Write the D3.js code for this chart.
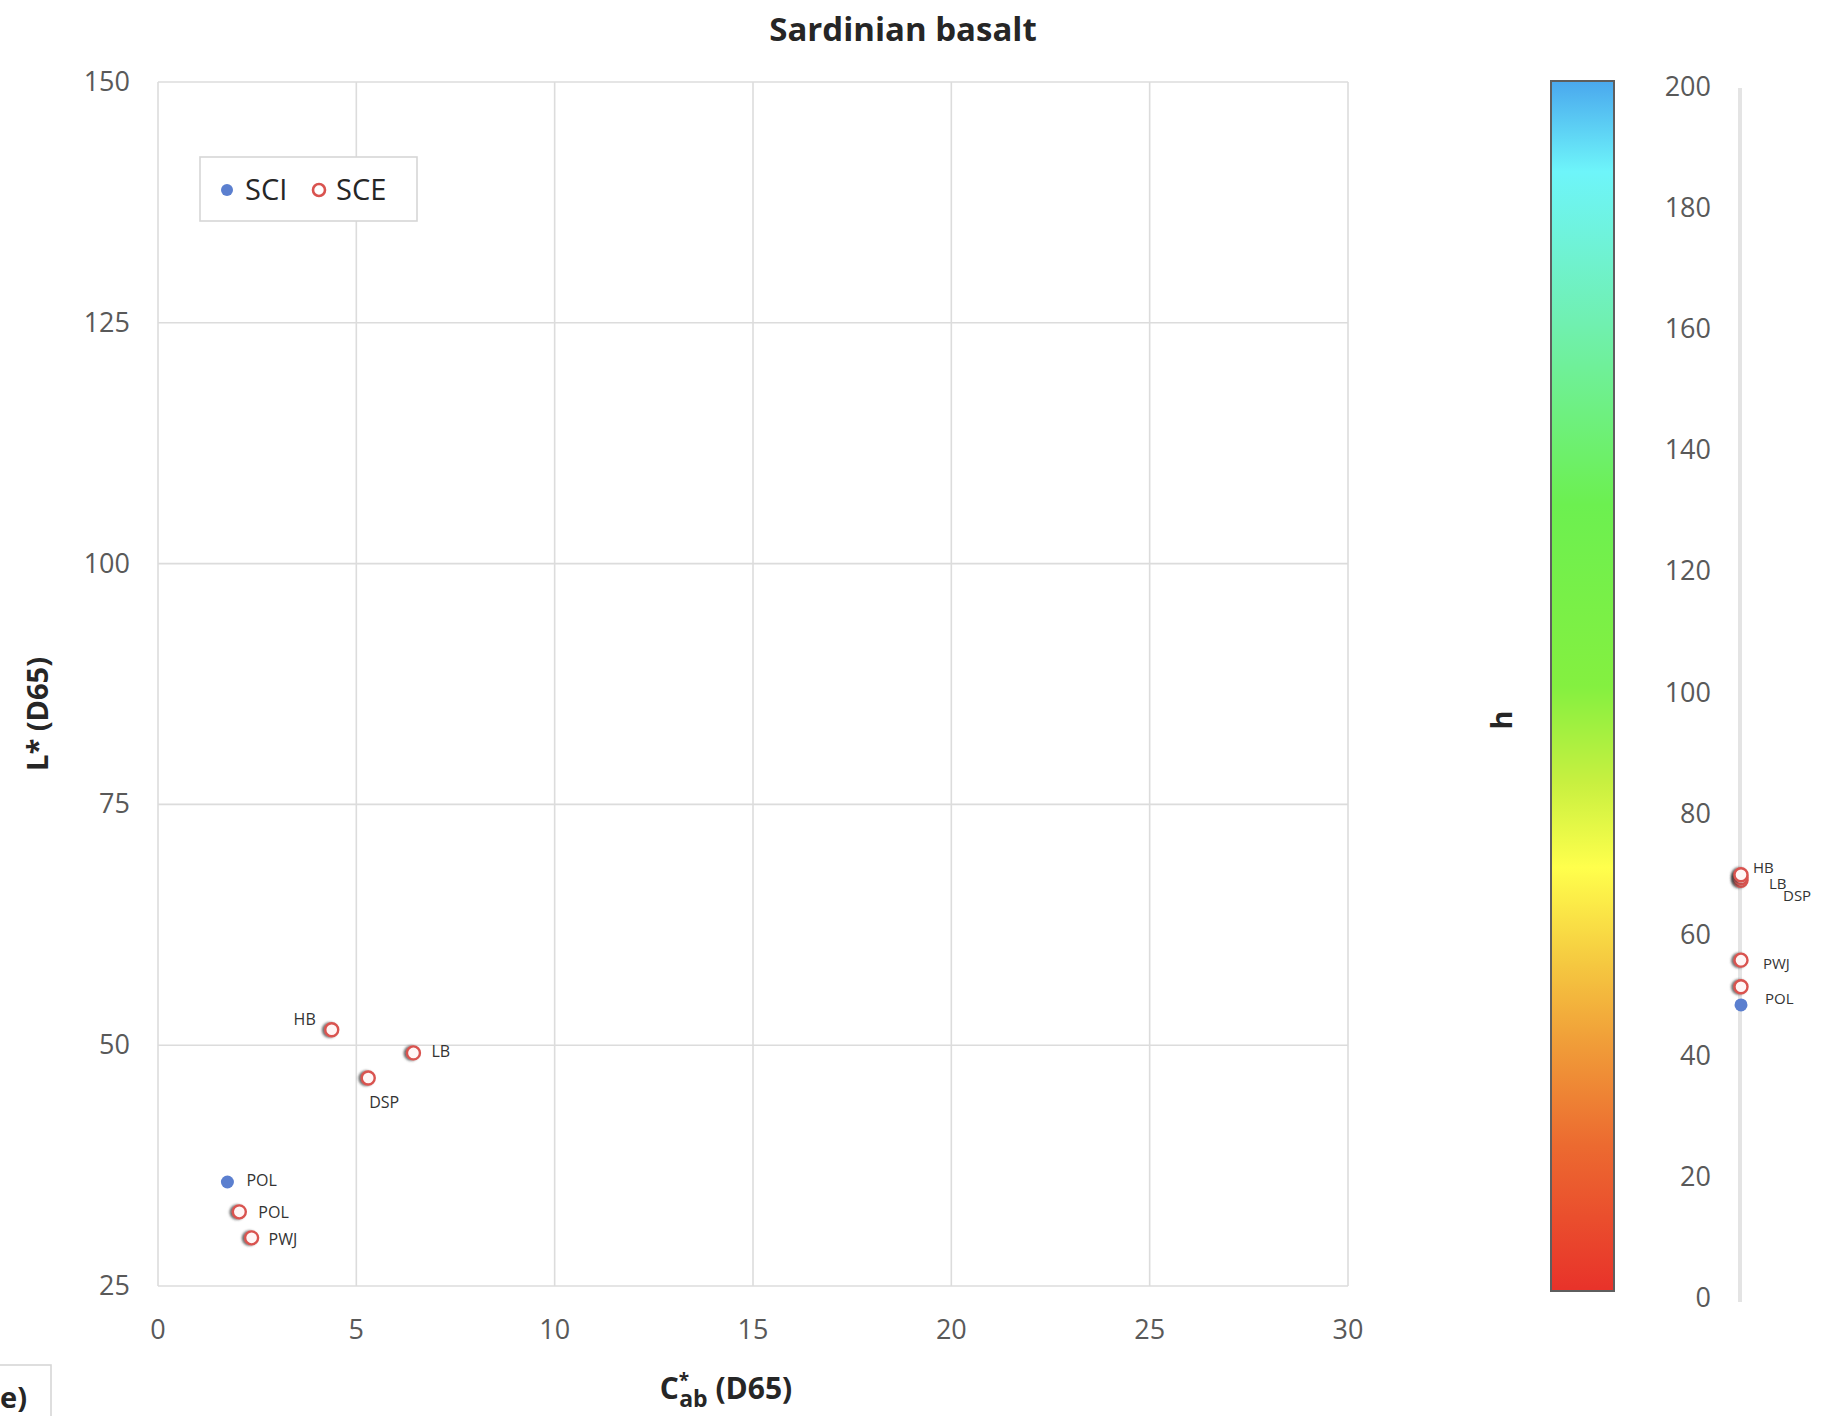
<!DOCTYPE html>
<html>
<head>
<meta charset="utf-8">
<script src="https://cdn.jsdelivr.net/npm/d3@7"></script>
<style>
  html, body { margin: 0; padding: 0; background: #fff; }
  svg { display: block; font-family: "Open Sans", Lato, "DejaVu Sans", sans-serif; }
</style>
</head>
<body>
<svg id="chart" width="1822" height="1416"></svg>
<script>
// Sample codes and their CIELAB readings (D65)
const samples = ["HB", "LB", "DSP", "POL", "PWJ"];

// SCE (specular component excluded)
const sceSamples = ["HB", "LB", "DSP", "POL", "PWJ"];
const sceChroma  = [4.38, 6.44, 5.30, 2.05, 2.36];
const sceLight   = [51.6, 49.2, 46.6, 32.7, 30.0];
const sceHue     = [69.9, 69.4, 69.0, 51.4, 55.8];

// SCI (specular component included)
const sciSamples = ["POL"];
const sciChroma  = [1.75];
const sciLight   = [35.8];
const sciHue     = [48.4];

// Axis ticks
const xTicks = [0, 5, 10, 15, 20, 25, 30];
const yTicks = [25, 50, 75, 100, 125, 150];
const hTicks = [0, 20, 40, 60, 80, 100, 120, 140, 160, 180, 200];

// Hue colour bar stops (h value, colour)
const hueStopValues = [0, 24, 40, 54, 70, 84, 100, 130, 160, 185, 200];
const hueStopColors = ["#e8322a", "#ec6a30", "#f09a38", "#f5c840", "#ffff4c",
                       "#c8f040", "#84f040", "#6cf050", "#70f0b0", "#6ef5fa", "#4aa8ee"];

const SCI_COLOR = "#5b7fcf";
const SCE_COLOR = "#d9534f";
const GRID = "#dcdcdc";
const TICK_COLOR = "#595959";
const TEXT_DARK = "#262626";

const svg = d3.select("#chart");

// Main plot geometry
const plot = { left: 158, right: 1348, top: 82, bottom: 1286 };
const x = d3.scaleLinear().domain([0, 30]).range([plot.left, plot.right]);
const y = d3.scaleLinear().domain([25, 150]).range([plot.bottom, plot.top]);

// Hue scale (colour bar + side strip)
const h = d3.scaleLinear().domain([0, 200]).range([1298, 87]);

// Shadow for hollow markers
const defs = svg.append("defs");
const shadow = defs.append("filter").attr("id", "ringShadow")
  .attr("x", "-50%").attr("y", "-50%").attr("width", "200%").attr("height", "200%");
shadow.append("feDropShadow").attr("dx", -2.2).attr("dy", 0.3)
  .attr("stdDeviation", 0.9).attr("flood-color", "#3a3a3a").attr("flood-opacity", 0.75);

// Gridlines
const g = svg.append("g");
g.selectAll("line.vgrid").data(xTicks).join("line")
  .attr("x1", d => x(d)).attr("x2", d => x(d))
  .attr("y1", plot.top).attr("y2", plot.bottom)
  .attr("stroke", GRID).attr("stroke-width", 1.6);
g.selectAll("line.hgrid").data(yTicks).join("line")
  .attr("x1", plot.left).attr("x2", plot.right)
  .attr("y1", d => y(d)).attr("y2", d => y(d))
  .attr("stroke", GRID).attr("stroke-width", 1.6);

// Axis tick labels
g.selectAll("text.xt").data(xTicks).join("text")
  .attr("x", d => x(d)).attr("y", plot.bottom + 53)
  .attr("text-anchor", "middle").attr("font-size", 27).attr("fill", TICK_COLOR)
  .text(d => d);
g.selectAll("text.yt").data(yTicks).join("text")
  .attr("x", plot.left - 28).attr("y", d => y(d) + 9)
  .attr("text-anchor", "end").attr("font-size", 27).attr("fill", TICK_COLOR)
  .text(d => d);

// Title
svg.append("text").attr("x", 903).attr("y", 41)
  .attr("text-anchor", "middle").attr("font-size", 33).attr("font-weight", "bold")
  .attr("fill", TEXT_DARK).text("Sardinian basalt");

// Axis titles
svg.append("text")
  .attr("transform", "translate(48,714) rotate(-90)")
  .attr("text-anchor", "middle").attr("font-size", 29).attr("font-weight", "bold")
  .attr("fill", TEXT_DARK).text("L* (D65)");

const xt = svg.append("text").attr("x", 726).attr("y", 1399)
  .attr("text-anchor", "middle").attr("font-size", 30).attr("font-weight", "bold")
  .attr("fill", TEXT_DARK);
xt.append("tspan").text("C");
xt.append("tspan").attr("dy", -12).attr("font-size", 19).text("*");
xt.append("tspan").attr("dx", -10).attr("dy", 20).attr("font-size", 23).text("ab");
xt.append("tspan").attr("dy", -8).text(" (D65)");

// Data points
const sce = sceSamples.map((s, i) => ({ s, c: sceChroma[i], l: sceLight[i], hue: sceHue[i], key: "SCE-" + s }));
const sci = sciSamples.map((s, i) => ({ s, c: sciChroma[i], l: sciLight[i], hue: sciHue[i], key: "SCI-" + s }));

// Label placement (pixel offsets from the marker)
const mainLabelOffsets = {
  "SCE-HB":  { dx: -16, dy: -11, anchor: "end" },
  "SCE-LB":  { dx: 18,  dy: -2,  anchor: "start" },
  "SCE-DSP": { dx: 16,  dy: 24,  anchor: "middle" },
  "SCE-POL": { dx: 19,  dy: 0,   anchor: "start" },
  "SCE-PWJ": { dx: 17,  dy: 1,   anchor: "start" },
  "SCI-POL": { dx: 19,  dy: -2,  anchor: "start" }
};
const sideLabelOffsets = {
  "SCE-HB":  { dx: 12, dy: -8 },
  "SCE-LB":  { dx: 28, dy: 5 },
  "SCE-DSP": { dx: 42, dy: 15 },
  "SCE-PWJ": { dx: 22, dy: 3 },
  "SCE-POL": { dx: 24, dy: 11 }
};

const pts = svg.append("g");
pts.selectAll("circle.sci").data(sci).join("circle")
  .attr("cx", d => x(d.c)).attr("cy", d => y(d.l)).attr("r", 6.5)
  .attr("fill", SCI_COLOR);
pts.selectAll("circle.sce").data(sce).join("circle")
  .attr("cx", d => x(d.c)).attr("cy", d => y(d.l)).attr("r", 6.5)
  .attr("fill", "#fff6f6").attr("stroke", SCE_COLOR).attr("stroke-width", 2.4)
  .attr("filter", "url(#ringShadow)");

pts.selectAll("text.lbl").data(sce.concat(sci)).join("text")
  .attr("x", d => x(d.c) + mainLabelOffsets[d.key].dx)
  .attr("y", d => y(d.l) + mainLabelOffsets[d.key].dy + 6)
  .attr("text-anchor", d => mainLabelOffsets[d.key].anchor)
  .attr("font-size", 16).attr("fill", "#333").text(d => d.s);

// Legend
const lg = svg.append("g");
lg.append("rect").attr("x", 200).attr("y", 157).attr("width", 217).attr("height", 64)
  .attr("fill", "#fff").attr("stroke", "#d6d6d6").attr("stroke-width", 1.6);
lg.append("circle").attr("cx", 227).attr("cy", 190).attr("r", 6).attr("fill", SCI_COLOR);
lg.append("text").attr("x", 245).attr("y", 200).attr("font-size", 29).attr("fill", TEXT_DARK).text("SCI");
lg.append("circle").attr("cx", 319).attr("cy", 190).attr("r", 6)
  .attr("fill", "#fff").attr("stroke", SCE_COLOR).attr("stroke-width", 2.6);
lg.append("text").attr("x", 336).attr("y", 200).attr("font-size", 29).attr("fill", TEXT_DARK).text("SCE");

// Hue colour bar
const grad = defs.append("linearGradient").attr("id", "hueGrad")
  .attr("x1", 0).attr("y1", 1).attr("x2", 0).attr("y2", 0);
grad.selectAll("stop").data(hueStopValues).join("stop")
  .attr("offset", d => d / 200)
  .attr("stop-color", (d, i) => hueStopColors[i]);

const barTop = h(200) - 6, barBottom = h(0) - 7;
svg.append("rect").attr("x", 1551).attr("y", barTop)
  .attr("width", 63).attr("height", barBottom - barTop)
  .attr("fill", "url(#hueGrad)").attr("stroke", "#5e5e5e").attr("stroke-width", 2);

svg.selectAll("text.ht").data(hTicks).join("text")
  .attr("x", 1711).attr("y", d => h(d) + 9)
  .attr("text-anchor", "end").attr("font-size", 27).attr("fill", TICK_COLOR)
  .text(d => d);

svg.append("text")
  .attr("transform", "translate(1512,720) rotate(-90)")
  .attr("text-anchor", "middle").attr("font-size", 29).attr("font-weight", "bold")
  .attr("fill", TEXT_DARK).text("h");

// Hue strip with the samples placed by hue angle
const sideX = 1741;
svg.append("line").attr("x1", sideX - 1).attr("x2", sideX - 1)
  .attr("y1", h(200) + 1).attr("y2", h(0) + 4)
  .attr("stroke", "#e4e4e4").attr("stroke-width", 4);

const side = svg.append("g");
side.selectAll("circle.sci").data(sci).join("circle")
  .attr("cx", sideX).attr("cy", d => h(d.hue)).attr("r", 6.5).attr("fill", SCI_COLOR);
side.selectAll("circle.sce").data(sce.slice().reverse()).join("circle")
  .attr("cx", sideX).attr("cy", d => h(d.hue)).attr("r", 6.5)
  .attr("fill", "#fff6f6").attr("stroke", SCE_COLOR).attr("stroke-width", 2.4)
  .attr("filter", "url(#ringShadow)");
side.selectAll("text.lbl").data(sce).join("text")
  .attr("x", d => sideX + sideLabelOffsets[d.key].dx)
  .attr("y", d => h(d.hue) + sideLabelOffsets[d.key].dy + 6)
  .attr("font-size", 15).attr("fill", "#333").text(d => d.s);

// Panel tag
svg.append("rect").attr("x", -10).attr("y", 1365).attr("width", 61).attr("height", 70)
  .attr("fill", "#fff").attr("stroke", "#d6d6d6").attr("stroke-width", 1.6);
svg.append("text").attr("x", 0).attr("y", 1408).attr("font-size", 29).attr("font-weight", "bold")
  .attr("fill", TEXT_DARK).text("e)");
</script>
</body>
</html>
